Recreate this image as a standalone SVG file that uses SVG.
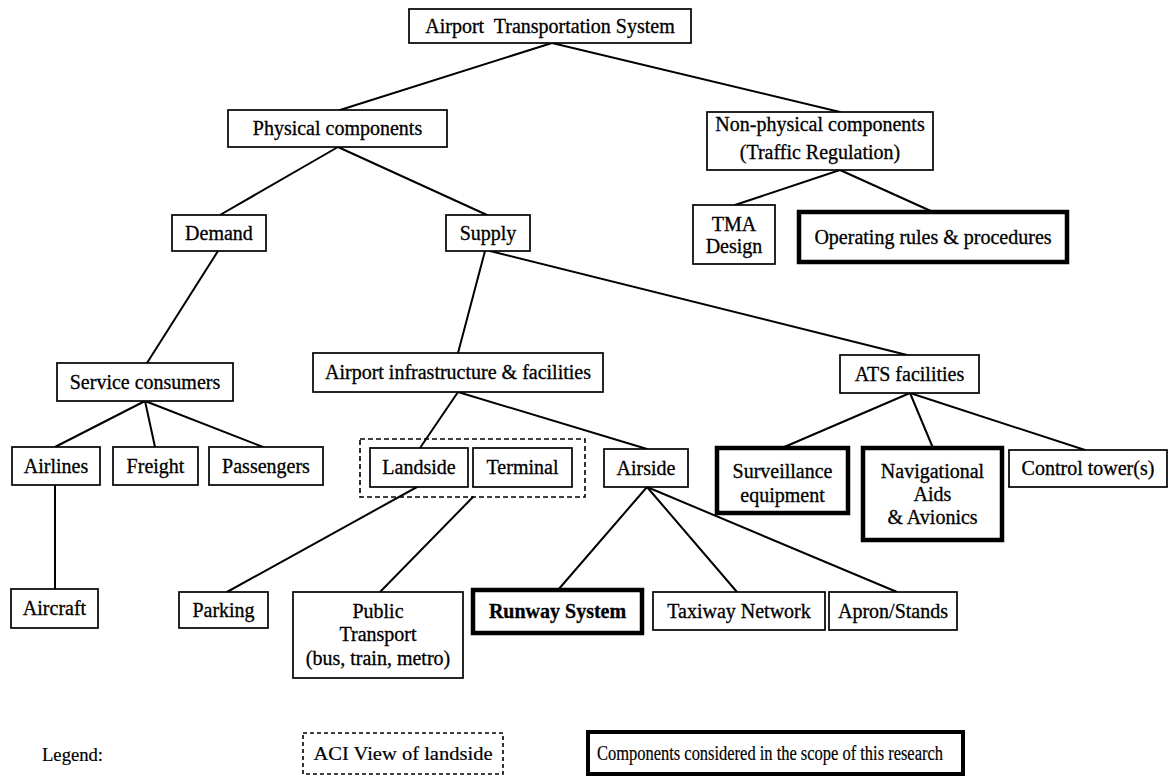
<svg xmlns="http://www.w3.org/2000/svg" width="1173" height="778" viewBox="0 0 1173 778">
  <style>
    .bg { fill: #ffffff; }
    .box { fill: #ffffff; stroke: #000000; stroke-width: 1.7; }
    .key { fill: #ffffff; stroke: #000000; stroke-width: 4.5; }
    .grp { fill: none; stroke: #000000; stroke-width: 1.6; stroke-dasharray: 5 3; }
    .edge { stroke: #000000; stroke-width: 2; fill: none; stroke-linecap: round; }
    text { font-family: "Liberation Serif", "Times New Roman", serif; font-size: 20px; fill: #000000; stroke: #000000; stroke-width: 0.3; text-anchor: middle; }
    .bold { font-weight: bold; }
    .legend { font-size: 19.5px; stroke-width: 0.2; }
  </style>

  <rect class="bg" x="0" y="0" width="1173" height="778"/>

  <!-- tree connectors -->
  <g id="connectors">
    <line class="edge" x1="552" y1="43" x2="340" y2="110"/>
    <line class="edge" x1="552" y1="43" x2="840" y2="112"/>
    <line class="edge" x1="338" y1="147" x2="220" y2="215"/>
    <line class="edge" x1="338" y1="147" x2="487" y2="215"/>
    <line class="edge" x1="840" y1="170" x2="735" y2="205"/>
    <line class="edge" x1="840" y1="170" x2="933" y2="212"/>
    <line class="edge" x1="218" y1="251" x2="147" y2="363"/>
    <line class="edge" x1="485" y1="251" x2="458" y2="353"/>
    <line class="edge" x1="490" y1="251" x2="907" y2="355"/>
    <line class="edge" x1="145" y1="401" x2="55" y2="447"/>
    <line class="edge" x1="145" y1="401" x2="155" y2="447"/>
    <line class="edge" x1="145" y1="401" x2="263" y2="447"/>
    <line class="edge" x1="55" y1="485" x2="55" y2="589"/>
    <line class="edge" x1="458" y1="392" x2="420" y2="448"/>
    <line class="edge" x1="458" y1="392" x2="647" y2="449"/>
    <line class="edge" x1="417" y1="487" x2="227" y2="592"/>
    <line class="edge" x1="473" y1="497" x2="380" y2="592"/>
    <line class="edge" x1="647" y1="487" x2="558" y2="590"/>
    <line class="edge" x1="647" y1="487" x2="737" y2="592"/>
    <line class="edge" x1="647" y1="487" x2="897" y2="592"/>
    <line class="edge" x1="910" y1="393" x2="782" y2="448"/>
    <line class="edge" x1="910" y1="393" x2="933" y2="448"/>
    <line class="edge" x1="910" y1="393" x2="1085" y2="450"/>
  </g>

  <!-- grouping frame around landside and terminal -->
  <rect id="aci-frame" class="grp" x="360" y="439" width="225" height="58"/>

  <g id="root">
    <rect class="box" x="409" y="9" width="282" height="34"/>
    <text x="550" y="32.5" xml:space="preserve">Airport  Transportation System</text>
  </g>
  <g id="physical">
    <rect class="box" x="228" y="110" width="219" height="37"/>
    <text x="337.5" y="135">Physical components</text>
  </g>
  <g id="non-physical">
    <rect class="box" x="707" y="112" width="226" height="58"/>
    <text x="820" y="131">Non-physical components</text>
    <text x="820" y="159">(Traffic Regulation)</text>
  </g>
  <g id="demand">
    <rect class="box" x="172" y="215" width="94" height="36"/>
    <text x="219" y="239.5">Demand</text>
  </g>
  <g id="supply">
    <rect class="box" x="446" y="215" width="84" height="36"/>
    <text x="488" y="239.5">Supply</text>
  </g>
  <g id="tma-design">
    <rect class="box" x="693" y="205" width="82" height="59"/>
    <text x="734" y="231">TMA</text>
    <text x="734" y="253">Design</text>
  </g>
  <g id="operating-rules">
    <rect class="key" x="799" y="212" width="268" height="50"/>
    <text x="933" y="243.5">Operating rules &amp; procedures</text>
  </g>
  <g id="service-consumers">
    <rect class="box" x="57" y="363" width="176" height="38"/>
    <text x="145" y="388.5">Service consumers</text>
  </g>
  <g id="airport-infrastructure">
    <rect class="box" x="313" y="353" width="290" height="39"/>
    <text x="458" y="379">Airport infrastructure &amp; facilities</text>
  </g>
  <g id="ats-facilities">
    <rect class="box" x="840" y="355" width="139" height="38"/>
    <text x="909.5" y="380.5">ATS facilities</text>
  </g>
  <g id="airlines">
    <rect class="box" x="12" y="447" width="88" height="38"/>
    <text x="56" y="472.5">Airlines</text>
  </g>
  <g id="freight">
    <rect class="box" x="113" y="447" width="85" height="38"/>
    <text x="155.5" y="472.5">Freight</text>
  </g>
  <g id="passengers">
    <rect class="box" x="209" y="447" width="114" height="38"/>
    <text x="266" y="472.5">Passengers</text>
  </g>
  <g id="landside">
    <rect class="box" x="370" y="448" width="98" height="39"/>
    <text x="419" y="474">Landside</text>
  </g>
  <g id="terminal">
    <rect class="box" x="473" y="448" width="99" height="39"/>
    <text x="522.5" y="474">Terminal</text>
  </g>
  <g id="airside">
    <rect class="box" x="604" y="449" width="84" height="38"/>
    <text x="646" y="474.5">Airside</text>
  </g>
  <g id="surveillance">
    <rect class="key" x="717" y="448" width="131" height="65"/>
    <text x="782.5" y="478">Surveillance</text>
    <text x="782.5" y="502">equipment</text>
  </g>
  <g id="navigational-aids">
    <rect class="key" x="863" y="448" width="139" height="92"/>
    <text x="932.5" y="478">Navigational</text>
    <text x="932.5" y="501">Aids</text>
    <text x="932.5" y="524">&amp; Avionics</text>
  </g>
  <g id="control-towers">
    <rect class="box" x="1009" y="450" width="158" height="37"/>
    <text x="1088" y="475">Control tower(s)</text>
  </g>
  <g id="aircraft">
    <rect class="box" x="11" y="589" width="87" height="39"/>
    <text x="54.5" y="615">Aircraft</text>
  </g>
  <g id="parking">
    <rect class="box" x="179" y="592" width="89" height="36"/>
    <text x="223.5" y="616.5">Parking</text>
  </g>
  <g id="public-transport">
    <rect class="box" x="293" y="592" width="170" height="86"/>
    <text x="378" y="618">Public</text>
    <text x="378" y="641">Transport</text>
    <text x="378" y="665">(bus, train, metro)</text>
  </g>
  <g id="runway-system">
    <rect class="key" x="473" y="590" width="169" height="43"/>
    <text class="bold" x="557.5" y="618">Runway System</text>
  </g>
  <g id="taxiway-network">
    <rect class="box" x="653" y="592" width="172" height="38"/>
    <text x="739" y="617.5">Taxiway Network</text>
  </g>
  <g id="apron-stands">
    <rect class="box" x="829" y="592" width="128" height="38"/>
    <text x="893" y="617.5">Apron/Stands</text>
  </g>

  <!-- legend -->
  <g id="legend">
    <text class="legend" x="42" y="761" style="text-anchor:start" textLength="61" lengthAdjust="spacingAndGlyphs">Legend:</text>
    <rect class="grp" x="303" y="733" width="200" height="41" style="stroke-dasharray:4 3"/>
    <text class="legend" x="403" y="760" textLength="179" lengthAdjust="spacingAndGlyphs">ACI View of landside</text>
    <rect class="key" x="588" y="732" width="375" height="42" style="stroke-width:4"/>
    <text class="legend" x="770" y="760" textLength="346" lengthAdjust="spacingAndGlyphs" style="font-size:20px">Components considered in the scope of this research</text>
  </g>
</svg>
